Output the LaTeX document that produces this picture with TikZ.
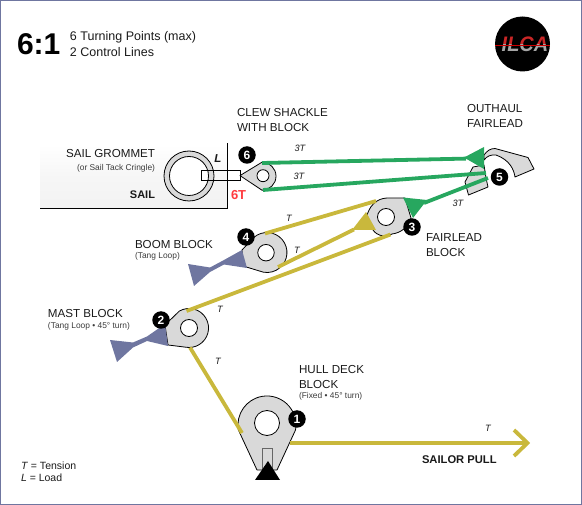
\documentclass[tikz,border=0pt]{standalone}
\usepackage{fontspec}
\setmainfont{Liberation Sans}
\definecolor{frame}{HTML}{6F76A0}
\definecolor{blockgray}{HTML}{D9D9D9}
\definecolor{ropeyellow}{HTML}{C9B83C}
\definecolor{ropegreen}{HTML}{27A75F}
\definecolor{tangblue}{HTML}{6F76A0}
\definecolor{loadred}{HTML}{FF3B3F}
\definecolor{txt}{HTML}{1A1A1A}
\definecolor{sub}{HTML}{3A3A3A}
\newcommand{\fs}[1]{\fontsize{#1}{#1}\selectfont}
\tikzset{
  x=1pt,y=-1pt,
  lbl/.style={anchor=base west,inner sep=0pt,outer sep=0pt,text=txt,font=\fs{11.6}},
  lblr/.style={lbl,anchor=base east},
  subl/.style={lbl,text=sub,font=\fs{8.4}},
  sublr/.style={subl,anchor=base east},
  tens/.style={lbl,anchor=base,font=\fs{9.2}\itshape},
  blockbody/.style={fill=blockgray,draw=black,line width=0.8pt,line join=round},
  sheave/.style={circle,fill=white,draw=black,line width=0.8pt,inner sep=0pt},
  badge/.style={circle,fill=black,text=white,inner sep=0pt,minimum size=17.5pt,font=\fs{12}\bfseries},
  yrope/.style={draw=ropeyellow,line width=3.8pt},
  grope/.style={draw=ropegreen,line width=3.8pt},
}
\begin{document}
\begin{tikzpicture}
\useasboundingbox (0,0) rectangle (582,505);
\draw[frame,line width=1.2pt] (0.6,0.6) rectangle (581.4,504.4);

% sail
\shade[top color=white,bottom color=white!95!black,middle color=white!96.5!black] (40,145) rectangle (227,209);
\draw[black,line width=1pt] (40,209) -- (227,209) -- (227,143);
\node[circle,fill=blockgray,draw=black,line width=0.8pt,minimum size=50pt,inner sep=0pt] (grommet) at (189,176) {};
\node[circle,fill=white,draw=black,line width=0.8pt,minimum size=39pt,inner sep=0pt] (grommethole) at (189,176) {};
\node[draw=black,line width=0.9pt,minimum width=39pt,minimum height=9.5pt,inner sep=0pt] (shackle) at (220.5,175.6) {};

% blocks
\draw[blockbody] (240,175.6) -- (262,162.2) arc[start angle=90,end angle=-90,radius=14pt] -- cycle;
\draw[blockbody] (254.1,237.2) arc[start angle=130,end angle=-100,radius=20pt] -- (243,266) -- (242,250) -- cycle;
\draw[blockbody] (179.3,311.1) arc[start angle=120,end angle=-100,radius=19.5pt] -- (168,345) -- (165,325) -- cycle;
\draw[blockbody] (238.4,430) arc[start angle=190,end angle=-10,radius=29pt] -- (277,470) -- (257,470) -- cycle;
\draw[blockbody] (377,201) .. controls (381,198.5) and (385,198) .. (389,198) -- (405,198) -- (411,218)
  .. controls (408,228) and (400,233) .. (392,234) .. controls (389,236) and (386,236.5) .. (383,236)
  .. controls (378,235) and (375,233) .. (373,230) -- (367,215) .. controls (369,209) and (372,204) .. (377,201) -- cycle;
% fairlead 5
\draw[blockbody] (484,155) .. controls (487,151) and (490,148.5) .. (495,148.5) -- (528,157.5) -- (534,169) -- (515,177)
  .. controls (514,170) and (510,160) .. (496,155) .. controls (491,154.5) and (487,156) .. (484,160) -- cycle;
\draw[blockbody] (473,167) -- (465,182) -- (468.5,195) -- (488,187) -- (486,178) -- (484,165) -- cycle;

% sheaves
\node[sheave,minimum size=12pt] (clewhole) at (263,175.7) {};
\node[sheave,minimum size=16.5pt] (boomhole) at (266,252.7) {};
\node[sheave,minimum size=17pt] (masthole) at (189,328) {};
\node[sheave,minimum size=25pt] (hullhole) at (267,423) {};
\node[sheave,minimum size=17pt] (fairhole) at (386,217) {};
\node[draw=black!60,line width=0.9pt,minimum width=10pt,minimum height=22pt,inner sep=0pt] (slot) at (267,459) {};
\fill[black] (268,461) -- (280,480) -- (255,480) -- cycle;

% tang loops
\fill[tangblue] (242,250) -- (247,268) -- (224,264.5) -- (210,272) -- (194,286) -- (188,264) -- (210,267.5) -- (224,260) -- cycle;
\fill[tangblue] (165,324) -- (168,346) -- (147,341) -- (133,347.5) -- (117,362) -- (110,340) -- (133,342.5) -- (147,336.5) -- cycle;

% rope anchor points
\coordinate (clewA) at (262,163);
\coordinate (clewB) at (263,190);
\coordinate (fairA) at (466,158.6);
\coordinate (fairB) at (486,173);
\coordinate (fairC) at (488,178);
\coordinate (threeG) at (424,203);
\coordinate (boomT) at (265,233.5);
\coordinate (boomB) at (278,267);
\coordinate (threeT) at (376,201);
\coordinate (threeB) at (390.5,234.5);
\coordinate (threeM) at (354,229.5);
\coordinate (mastT) at (186.5,311);
\coordinate (mastB) at (190,347.5);
\coordinate (hullL) at (242,433);
\coordinate (hullR) at (290,443);
\coordinate (pullEnd) at (527.5,443);

% yellow ropes
\draw[yrope] (boomT) -- (threeT);
\draw[yrope] (boomB) -- (threeM);
\draw[yrope] (mastT) -- (threeB);
\draw[yrope] (mastB) -- (hullL);
\draw[yrope] (hullR) -- (pullEnd);
\draw[draw=ropeyellow,line width=3.8pt,miter limit=10] (514,430) -- (pullEnd) -- (514,456);
\fill[ropeyellow] (366,212) -- (376,230) -- (352,230) -- cycle;

% green ropes
\draw[grope] (clewA) -- (fairA);
\draw[grope] (clewB) -- (fairB);
\draw[grope] (fairC) -- (threeG);
\fill[ropegreen] (484,147) -- (484,169) -- (464,157.5) -- cycle;
\fill[ropegreen] (403,197.5) -- (427,200) -- (413,218) -- cycle;

% badges
\node[badge] (b1) at (297,419) {1};
\node[badge] (b2) at (161,320) {2};
\node[badge] (b3) at (412,227) {3};
\node[badge] (b4) at (246,237) {4};
\node[badge] (b5) at (499.5,177) {5};
\node[badge] (b6) at (247,155) {6};

% header
\node[lbl,font=\fs{30}\bfseries,text=black] (ratio) at (17,55) {6:1};
\node[lbl,font=\fs{12.5}] (hdA) at (70,41) {6 Turning Points (max)};
\node[lbl,font=\fs{12.5}] (hdB) at (70,56.5) {2 Control Lines};

% logo
\node[circle,fill=black,minimum size=55pt,inner sep=0pt] (logo) at (522.5,44) {};
\begin{scope}
\clip (495,30) rectangle (550,45);
\node[anchor=base,inner sep=0pt,text=red!75!black!85!white,font=\fs{21}\bfseries\itshape,xscale=.95] (ilcaR) at (525,52) {ILCA};
\end{scope}
\begin{scope}
\clip (495,45) rectangle (550,60);
\node[anchor=base,inner sep=0pt,text=black!35,font=\fs{21}\bfseries\itshape,xscale=.95] (ilcaG) at (525,52) {ILCA};
\end{scope}
\draw[red!80!black,line width=0.6pt] (495,45) -- (550,45);

% labels
\node[lblr] (gromA) at (155,157.8) {SAIL GROMMET};
\node[sublr] (gromB) at (155,171) {(or Sail Tack Cringle)};
\node[lblr,font=\fs{11}\bfseries] (sailL) at (155,198.8) {SAIL};
\node[lbl,font=\fs{11.5}\bfseries\itshape,anchor=base] (loadL) at (218,163) {L};
\node[lbl,font=\fs{13}\bfseries,text=loadred] (sixT) at (231,199.5) {6T};
\node[lbl] (clewA1) at (237,116.8) {CLEW SHACKLE};
\node[lbl] (clewA2) at (237,131.8) {WITH BLOCK};
\node[lbl] (outA) at (467,112.8) {OUTHAUL};
\node[lbl] (outB) at (467,127.8) {FAIRLEAD};
\node[lbl] (fbA) at (426,241.8) {FAIRLEAD};
\node[lbl] (fbB) at (426,256.8) {BLOCK};
\node[lbl] (bbA) at (135,248.8) {BOOM BLOCK};
\node[subl] (bbB) at (135,258.5) {(Tang Loop)};
\node[lbl] (mbA) at (48,317.8) {MAST BLOCK};
\node[subl] (mbB) at (48,328.5) {(Tang Loop • 45° turn)};
\node[lbl] (hbA) at (299,373.8) {HULL DECK};
\node[lbl] (hbB) at (299,388.8) {BLOCK};
\node[subl] (hbC) at (299,398.5) {(Fixed • 45° turn)};
\node[lbl,font=\fs{11.2}\bfseries] (pull) at (422,464) {SAILOR PULL};
\node[tens] (t3a) at (300,152) {3T};
\node[tens] (t3b) at (299,180) {3T};
\node[tens] (t3c) at (458,207) {3T};
\node[tens] (t1) at (289,222) {T};
\node[tens] (t2) at (297,254) {T};
\node[tens] (t4) at (220,313) {T};
\node[tens] (t5) at (218,365) {T};
\node[tens] (t6) at (488,432) {T};
\node[lbl,font=\fs{10.5}] (kT) at (21,470) {\textit{T} = Tension};
\node[lbl,font=\fs{10.5}] (kL) at (21,482) {\textit{L} = Load};
\end{tikzpicture}
\end{document}
